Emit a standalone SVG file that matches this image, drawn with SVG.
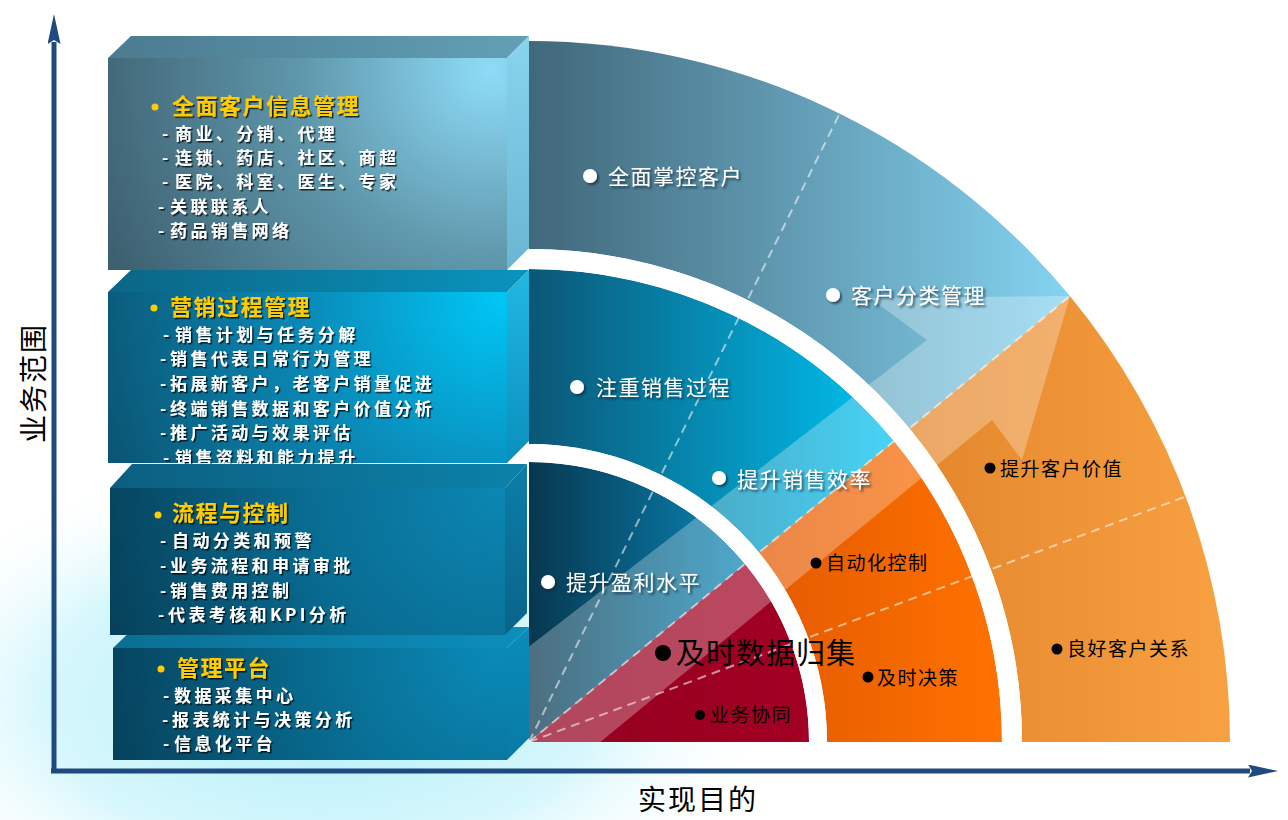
<svg xmlns="http://www.w3.org/2000/svg" width="1288" height="820" viewBox="0 0 1288 820">
<defs>
<style>
.tt{font-family:"Noto Sans CJK SC","Noto Sans",sans-serif;font-weight:bold;fill:#ffcc00;font-size:22px;letter-spacing:1.5px;filter:url(#ts)}
.bt{font-family:"Noto Sans CJK SC","Noto Sans",sans-serif;font-weight:bold;fill:#ffffff;font-size:17px;letter-spacing:3.4px;filter:url(#ts)}
.wl{font-family:"Noto Sans CJK SC","Noto Sans",sans-serif;fill:#ffffff;font-size:21px;letter-spacing:1.5px;filter:url(#ts2)}
.kl{font-family:"Noto Sans CJK SC","Noto Sans",sans-serif;fill:#000000;font-size:19px;letter-spacing:1.5px}
.ax{font-family:"Noto Sans CJK SC","Noto Sans",sans-serif;fill:#000000;font-size:28px;letter-spacing:2px}
.dash{fill:none;stroke:#ffffff;stroke-opacity:0.55;stroke-width:2;stroke-dasharray:9 6}
.gap{fill:none;stroke:#ffffff}
.wb{fill:#ffffff;filter:url(#ts2)}
.axis{stroke:#1f4a80;stroke-width:5;fill:none}
</style>
<filter id="ts" x="-5%" y="-30%" width="115%" height="170%"><feDropShadow dx="1.5" dy="1.5" stdDeviation="0.6" flood-color="#000000" flood-opacity="0.75"/></filter>
<filter id="ts2" x="-10%" y="-30%" width="130%" height="170%"><feDropShadow dx="2" dy="2" stdDeviation="1" flood-color="#0d2a38" flood-opacity="0.7"/></filter>
<radialGradient id="glow" cx="320" cy="700" r="460" gradientUnits="userSpaceOnUse" gradientTransform="translate(320 700) scale(1 0.55) translate(-320 -700)">
<stop offset="0" stop-color="#b4effa"/><stop offset="0.6" stop-color="#d6f7fc"/><stop offset="1" stop-color="#ffffff" stop-opacity="0"/>
</radialGradient>
<linearGradient id="gOB" x1="529" y1="0" x2="1070" y2="0" gradientUnits="userSpaceOnUse"><stop offset="0" stop-color="#41677a"/><stop offset="1" stop-color="#84d3f0"/></linearGradient>
<linearGradient id="gOO" x1="900" y1="0" x2="1230" y2="0" gradientUnits="userSpaceOnUse"><stop offset="0" stop-color="#e3852b"/><stop offset="1" stop-color="#f8a142"/></linearGradient>
<linearGradient id="gMB" x1="529" y1="0" x2="894" y2="0" gradientUnits="userSpaceOnUse"><stop offset="0" stop-color="#0b5676"/><stop offset="1" stop-color="#00c3f3"/></linearGradient>
<linearGradient id="gMO" x1="760" y1="0" x2="1003" y2="0" gradientUnits="userSpaceOnUse"><stop offset="0" stop-color="#e45a00"/><stop offset="1" stop-color="#ff7200"/></linearGradient>
<linearGradient id="gIB" x1="529" y1="0" x2="745" y2="0" gradientUnits="userSpaceOnUse"><stop offset="0" stop-color="#07374f"/><stop offset="1" stop-color="#0a87b8"/></linearGradient>
<linearGradient id="gIR" x1="529" y1="0" x2="809" y2="0" gradientUnits="userSpaceOnUse"><stop offset="0" stop-color="#92001e"/><stop offset="1" stop-color="#a30024"/></linearGradient>
<radialGradient id="f1" cx="490" cy="70" r="420" gradientUnits="userSpaceOnUse"><stop offset="0" stop-color="#8edcf8"/><stop offset="0.45" stop-color="#5f97ab"/><stop offset="1" stop-color="#3d6070"/></radialGradient>
<radialGradient id="f2" cx="500" cy="300" r="420" gradientUnits="userSpaceOnUse"><stop offset="0" stop-color="#00c6f5"/><stop offset="0.45" stop-color="#0a8cba"/><stop offset="1" stop-color="#0a5573"/></radialGradient>
<radialGradient id="f3" cx="500" cy="490" r="420" gradientUnits="userSpaceOnUse"><stop offset="0" stop-color="#0b86b3"/><stop offset="0.45" stop-color="#096d93"/><stop offset="1" stop-color="#063f58"/></radialGradient>
<radialGradient id="f4" cx="500" cy="650" r="420" gradientUnits="userSpaceOnUse"><stop offset="0" stop-color="#0a8ab8"/><stop offset="0.45" stop-color="#086b90"/><stop offset="1" stop-color="#063e57"/></radialGradient>
<linearGradient id="t1" x1="108" y1="0" x2="529" y2="0" gradientUnits="userSpaceOnUse"><stop offset="0" stop-color="#4b7b8f"/><stop offset="1" stop-color="#62a0b6"/></linearGradient>
<linearGradient id="t2" x1="108" y1="0" x2="529" y2="0" gradientUnits="userSpaceOnUse"><stop offset="0" stop-color="#0b6585"/><stop offset="1" stop-color="#0994be"/></linearGradient>
<linearGradient id="t3" x1="110" y1="0" x2="527" y2="0" gradientUnits="userSpaceOnUse"><stop offset="0" stop-color="#0b5f80"/><stop offset="1" stop-color="#0b82aa"/></linearGradient>
<linearGradient id="t4" x1="113" y1="0" x2="529" y2="0" gradientUnits="userSpaceOnUse"><stop offset="0" stop-color="#0b6e93"/><stop offset="1" stop-color="#0b8fbd"/></linearGradient>
<linearGradient id="s1" x1="0" y1="36" x2="0" y2="270" gradientUnits="userSpaceOnUse"><stop offset="0" stop-color="#88d4ef"/><stop offset="1" stop-color="#6ab6d2"/></linearGradient>
<linearGradient id="s2" x1="0" y1="270" x2="0" y2="463" gradientUnits="userSpaceOnUse"><stop offset="0" stop-color="#20b8e2"/><stop offset="1" stop-color="#0b8fbd"/></linearGradient>
<linearGradient id="s3" x1="0" y1="466" x2="0" y2="635" gradientUnits="userSpaceOnUse"><stop offset="0" stop-color="#0b7ea8"/><stop offset="1" stop-color="#0a6389"/></linearGradient>
<linearGradient id="s4" x1="0" y1="627" x2="0" y2="760" gradientUnits="userSpaceOnUse"><stop offset="0" stop-color="#0a8cb9"/><stop offset="1" stop-color="#087aa5"/></linearGradient>
<clipPath id="quarter"><path d="M529,742 L529,41 A701,701 0 0 1 1230,742 Z"/></clipPath>
<marker id="ah" viewBox="0 0 30 13" refX="2" refY="6.5" markerWidth="30" markerHeight="13" markerUnits="userSpaceOnUse" orient="auto">
<path d="M0,0 L30,6.5 L0,13 L4,6.5 Z" fill="#1f4a80"/>
</marker>
</defs>
<rect x="0" y="0" width="1288" height="820" fill="#ffffff"/>
<ellipse cx="320" cy="700" rx="460" ry="253" fill="url(#glow)"/>

<g id="connectors">
<line class="axis" x1="54" y1="773" x2="54" y2="42" marker-end="url(#ah)"/>
<line class="axis" x1="51" y1="771" x2="1250" y2="771" marker-end="url(#ah)"/>
</g>

<g id="quadrant">
<path d="M529,742 L529,41 A701,701 0 0 1 1069.9,296.1 Z" fill="url(#gOB)"/>
<path d="M529,742 L1069.9,296.1 A701,701 0 0 1 1230,742 Z" fill="url(#gOO)"/>
<path d="M529,742 L529,249 A493,493 0 0 1 1022,742 Z" fill="#ffffff"/>
<path d="M529,742 L529,269 A473,473 0 0 1 894,441.1 Z" fill="url(#gMB)"/>
<path d="M529,742 L894,441.1 A473,473 0 0 1 1002,742 Z" fill="url(#gMO)"/>
<path d="M529,742 L529,444 A298,298 0 0 1 827,742 Z" fill="#ffffff"/>
<path d="M529,742 L529,462 A280,280 0 0 1 745,563.9 Z" fill="url(#gIB)"/>
<path d="M529,742 L745,563.9 A280,280 0 0 1 809,742 Z" fill="url(#gIR)"/>
<g clip-path="url(#quarter)">
<line class="dash" x1="529" y1="742" x2="839.6" y2="113.6"/>
<line class="dash" x1="529" y1="742" x2="1069.9" y2="296.1"/>
<line class="dash" x1="529" y1="742" x2="1185.6" y2="496.5"/>
<path d="M440,715 L927,340 L870,298 L1070,296 L1022,460 L992,420 L570,767 Z" fill="#ffffff" fill-opacity="0.28"/>
</g>
<path class="gap" stroke-width="20" d="M529,259 A483,483 0 0 1 1012,742"/>
<path class="gap" stroke-width="18" d="M529,453 A289,289 0 0 1 818,742"/>
</g>

<g id="box1">
<path d="M108,58 L131,36 L529,36 L507,58 Z" fill="url(#t1)"/>
<path d="M507,58 L529,36 L529,248 L507,270 Z" fill="url(#s1)"/>
<rect x="108" y="58" width="399" height="212" fill="url(#f1)"/>
<circle cx="155" cy="107" r="3.5" fill="#ffcc00"/>
<text class="tt" x="172" y="114">全面客户信息管理</text>
<text class="bt" x="162" y="140">-<tspan x="175">商业、分销、代理</tspan></text>
<text class="bt" x="162" y="164">-<tspan x="175">连锁、药店、社区、商超</tspan></text>
<text class="bt" x="162" y="188">-<tspan x="175">医院、科室、医生、专家</tspan></text>
<text class="bt" x="158" y="213">-<tspan x="170">关联联系人</tspan></text>
<text class="bt" x="158" y="237">-<tspan x="170">药品销售网络</tspan></text>
</g>

<g id="box2">
<path d="M108,292 L131,270 L529,270 L507,292 Z" fill="url(#t2)"/>
<path d="M507,292 L529,270 L529,441 L507,463 Z" fill="url(#s2)"/>
<rect x="108" y="292" width="399" height="171" fill="url(#f2)"/>
<circle cx="154" cy="308" r="3.5" fill="#ffcc00"/>
<text class="tt" x="170" y="315">营销过程管理</text>
<text class="bt" x="163" y="341">-<tspan x="175">销售计划与任务分解</tspan></text>
<text class="bt" x="160" y="365">-<tspan x="170">销售代表日常行为管理</tspan></text>
<text class="bt" x="160" y="390">-<tspan x="170">拓展新客户，老客户销量促进</tspan></text>
<text class="bt" x="160" y="415">-<tspan x="170">终端销售数据和客户价值分析</tspan></text>
<text class="bt" x="160" y="439">-<tspan x="170">推广活动与效果评估</tspan></text>
<text class="bt" x="163" y="464">-<tspan x="175">销售资料和能力提升</tspan></text>
</g>

<g id="box4">
<path d="M113,648 L135,627 L529,627 L507,648 Z" fill="url(#t4)"/>
<path d="M507,648 L529,627 L529,738 L507,760 Z" fill="url(#s4)"/>
<rect x="113" y="648" width="394" height="112" fill="url(#f4)"/>
<circle cx="161" cy="669" r="3.5" fill="#ffcc00"/>
<text class="tt" x="177" y="676">管理平台</text>
<text class="bt" x="163" y="702">-<tspan x="174">数据采集中心</tspan></text>
<text class="bt" x="162" y="726">-<tspan x="172">报表统计与决策分析</tspan></text>
<text class="bt" x="163" y="750">-<tspan x="174">信息化平台</tspan></text>
</g>

<g id="box3">
<path d="M110,488 L132,464 L527,464 L505,488 Z" fill="url(#t3)"/>
<path d="M505,488 L527,464 L527,613 L505,635 Z" fill="url(#s3)"/>
<rect x="110" y="488" width="395" height="147" fill="url(#f3)"/>
<circle cx="158" cy="515" r="3.5" fill="#ffcc00"/>
<text class="tt" x="172" y="521">流程与控制</text>
<text class="bt" x="160" y="547">-<tspan x="172">自动分类和预警</tspan></text>
<text class="bt" x="160" y="572">-<tspan x="170">业务流程和申请审批</tspan></text>
<text class="bt" x="160" y="597">-<tspan x="170">销售费用控制</tspan></text>
<text class="bt" x="158" y="621">-<tspan x="168">代表考核和KPI分析</tspan></text>
</g>

<g id="labels-blue">
<circle class="wb" cx="590" cy="176" r="7"/>
<text class="wl" x="608" y="184">全面掌控客户</text>
<circle class="wb" cx="833" cy="295" r="7"/>
<text class="wl" x="851" y="303">客户分类管理</text>
<circle class="wb" cx="577" cy="387" r="7"/>
<text class="wl" x="596" y="395">注重销售过程</text>
<circle class="wb" cx="719" cy="478" r="7"/>
<text class="wl" x="737" y="487">提升销售效率</text>
<circle class="wb" cx="548" cy="582" r="7"/>
<text class="wl" x="566" y="590">提升盈利水平</text>
</g>

<g id="labels-orange">
<circle cx="990" cy="468" r="5.5" fill="#000"/>
<text class="kl" x="1000" y="476">提升客户价值</text>
<circle cx="816" cy="563" r="5.5" fill="#000"/>
<text class="kl" x="826" y="570">自动化控制</text>
<circle cx="663" cy="653" r="8" fill="#000"/>
<text class="kl" x="676" y="664" style="font-size:29px;letter-spacing:1px">及时数据归集</text>
<circle cx="868" cy="677" r="5.5" fill="#000"/>
<text class="kl" x="877" y="685">及时决策</text>
<circle cx="700" cy="715" r="5" fill="#000"/>
<text class="kl" x="710" y="722">业务协同</text>
<circle cx="1057" cy="649" r="5.5" fill="#000"/>
<text class="kl" x="1067" y="656">良好客户关系</text>
</g>

<g id="axis-labels">
<text class="ax" transform="translate(44 383) rotate(-90)" text-anchor="middle">业务范围</text>
<text class="ax" x="698" y="810" text-anchor="middle">实现目的</text>
</g>
</svg>
